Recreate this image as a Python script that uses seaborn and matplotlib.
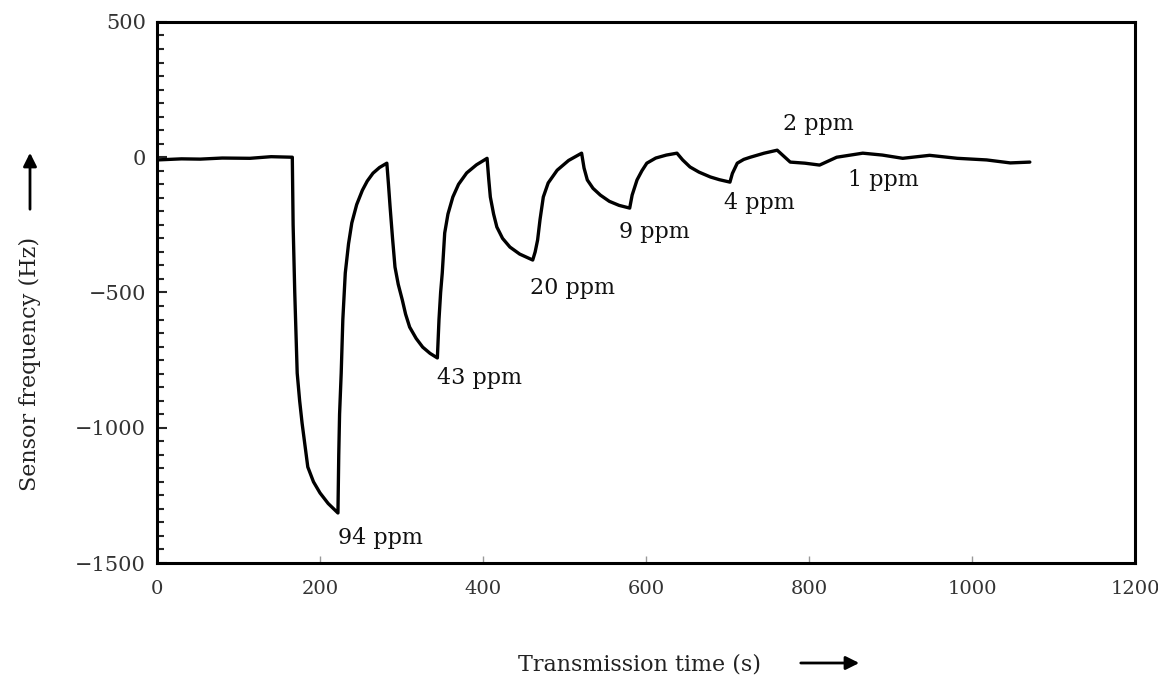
import matplotlib
matplotlib.use("Agg")
import matplotlib.pyplot as plt
import seaborn as sns
import pandas as pd

# ---- data ----
time_s = [0, 30, 53, 80, 114, 140, 166,
          167, 169, 172, 175, 178, 185, 192, 200, 210, 222,
          223, 224, 226, 228, 231, 235, 239, 245, 252, 258, 265, 273, 282,
          284, 286, 289, 292, 296, 301, 305, 310, 318, 326, 335, 344,
          346, 348, 350, 353, 357, 363, 370, 380, 392, 405,
          407, 409, 413, 417, 424, 433, 445, 461,
          464, 467, 470, 474, 480, 491, 505, 521,
          524, 528, 535, 544, 555, 567, 580,
          583, 589, 595, 601, 612, 625, 638,
          645, 654, 665, 679, 690, 703,
          706, 712, 720, 728, 745, 761,
          777, 795, 813, 834, 866, 890, 915, 948, 982, 1018, 1047, 1071]
freq_hz = [-10, -6, -7, -3, -4, 2, 0,
           -250, -500, -798, -900, -983, -1145, -1200, -1241, -1280, -1315,
           -1100, -950, -798, -600, -428, -320, -243, -175, -122, -88, -59, -38, -22,
           -100, -184, -300, -406, -470, -528, -580, -628, -670, -702, -725, -742,
           -600, -500, -428, -280, -210, -147, -100, -58, -28, -4,
           -80, -147, -210, -258, -300, -332, -358, -380,
           -350, -306, -230, -147, -95, -48, -12, 15,
           -40, -84, -115, -140, -163, -178, -188,
           -140, -84, -50, -22, -3, 8, 15,
           -10, -36, -55, -73, -83, -92,
           -60, -22, -8, 0, 15, 26,
           -18, -22, -29, 0, 15, 8, -4, 7, -4, -10, -21, -18]

labels = ["94 ppm", "43 ppm", "20 ppm", "9 ppm", "4 ppm", "2 ppm", "1 ppm"]
label_x = [274, 396, 510, 610, 739, 811, 891]
label_y = [-1408, -816, -483, -276, -169, 122, -84]

x_ticks = [0, 200, 400, 600, 800, 1000, 1200]
y_ticks = [-1500, -1000, -500, 0, 500]

df = pd.DataFrame({"time": time_s, "freq": freq_hz})

sns.set_style("white")
plt.rcParams["font.family"] = ["DejaVu Serif"]

fig = plt.figure(figsize=(11.58, 6.78), dpi=100)
ax = fig.add_axes([0.1356, 0.1696, 0.8445, 0.798])

sns.lineplot(data=df, x="time", y="freq", ax=ax, color="black",
             linewidth=2.4, estimator=None, sort=False)

ax.set_xlim(0, 1200)
ax.set_ylim(-1500, 500)
ax.set_xticks(x_ticks)
ax.set_yticks(y_ticks)
ax.set_yticks(range(-1500, 501, 50), minor=True)
ax.set_xticklabels([str(v) for v in x_ticks], fontsize=14, color="#333333")
ax.set_yticklabels([("\u2212" + str(-v)) if v < 0 else str(v) for v in y_ticks],
                   fontsize=15, color="#333333")
ax.tick_params(axis="y", which="major", direction="in", length=7, width=1.5,
               left=True, right=False, pad=8)
ax.tick_params(axis="y", which="minor", direction="in", length=5, width=1.5,
               left=True, right=False)
ax.tick_params(axis="x", which="major", direction="in", length=5, width=1,
               bottom=True, top=False, pad=12, color="#999999")

for s in ax.spines.values():
    s.set_visible(True)
    s.set_color("black")
    s.set_linewidth(2.2)

ax.set_xlabel("")
ax.set_ylabel("")

for t, x, y in zip(labels, label_x, label_y):
    ax.text(x, y, t, ha="center", va="center", fontsize=16, color="#111111")

# axis titles with arrows
fig.text(640 / 1158, 1 - 665 / 678, "Transmission time (s)", ha="center",
         va="center", fontsize=16, color="#222222")
fig.text(30 / 1158, 1 - 364 / 678, "Sensor frequency (Hz)", ha="center",
         va="center", rotation=90, fontsize=16, color="#222222")
ax.annotate("", xy=(862 / 1158, 1 - 663 / 678), xytext=(798 / 1158, 1 - 663 / 678),
            xycoords="figure fraction", textcoords="figure fraction",
            arrowprops=dict(arrowstyle="-|>", color="black", lw=2, mutation_scale=20))
ax.annotate("", xy=(30 / 1158, 1 - 150 / 678), xytext=(30 / 1158, 1 - 212 / 678),
            xycoords="figure fraction", textcoords="figure fraction",
            arrowprops=dict(arrowstyle="-|>", color="black", lw=2, mutation_scale=20))

fig.savefig("out.png", dpi=100)
